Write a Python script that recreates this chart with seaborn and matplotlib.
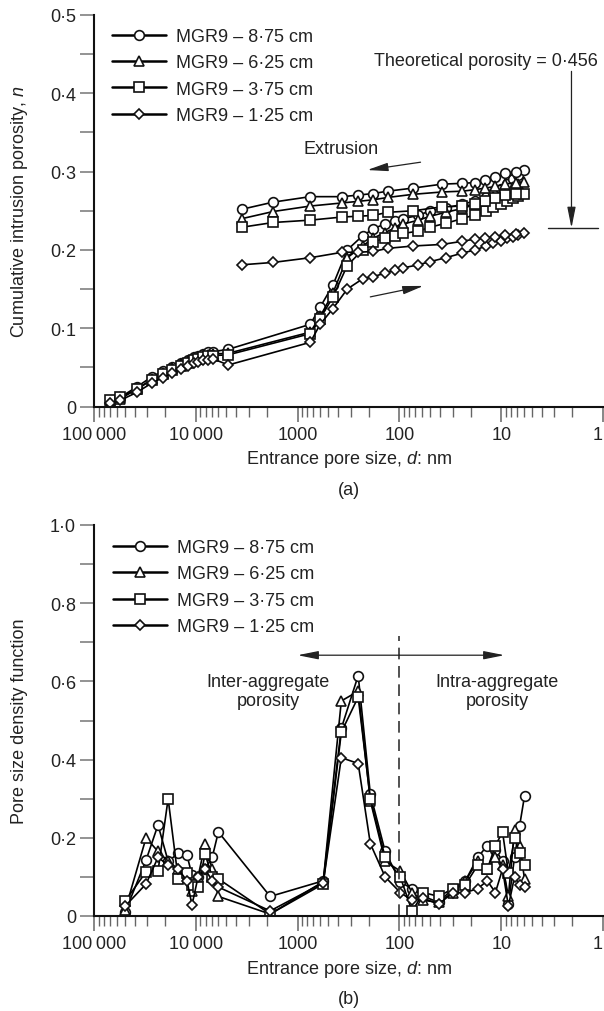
import matplotlib
matplotlib.use("Agg")
import matplotlib.pyplot as plt
import seaborn as sns
from matplotlib.ticker import FixedLocator, FuncFormatter, LogLocator, NullFormatter, MultipleLocator
from matplotlib.lines import Line2D

# ---------------- data ----------------
series_labels = ["MGR9 \u2013 8\u00b775 cm", "MGR9 \u2013 6\u00b725 cm",
                 "MGR9 \u2013 3\u00b775 cm", "MGR9 \u2013 1\u00b725 cm"]
series_markers = ["o", "^", "s", "D"]
marker_sizes = [7.0, 7.0, 6.5, 5.3]

# (a) cumulative intrusion porosity: intrusion branch (large -> small pores)
intr_d = [70000, 55000, 38000, 27000, 21000, 17000, 14000, 12000, 10500, 9500,
          8500, 7600, 6800, 4800, 750, 600, 450, 325, 230, 180,
          140, 110, 92, 65, 50, 35, 24, 18, 14, 12,
          10, 8.7, 7.6, 6.8, 6.0]
intr_n_875 = [0.005, 0.012, 0.025, 0.038, 0.045, 0.051, 0.056, 0.060, 0.063, 0.065,
              0.067, 0.069, 0.070, 0.073, 0.105, 0.127, 0.155, 0.200, 0.218, 0.227,
              0.233, 0.237, 0.240, 0.244, 0.250, 0.254, 0.258, 0.263, 0.268, 0.273,
              0.278, 0.284, 0.290, 0.296, 0.302]
intr_n_625 = [0.003, 0.010, 0.022, 0.035, 0.043, 0.049, 0.054, 0.058, 0.061, 0.063,
              0.065, 0.066, 0.067, 0.068, 0.095, 0.115, 0.145, 0.190, 0.205, 0.215,
              0.222, 0.228, 0.233, 0.238, 0.243, 0.248, 0.253, 0.258, 0.263, 0.268,
              0.272, 0.276, 0.280, 0.284, 0.287]
intr_n_375 = [0.008, 0.012, 0.022, 0.034, 0.041, 0.047, 0.052, 0.056, 0.059, 0.061,
              0.063, 0.064, 0.065, 0.066, 0.093, 0.112, 0.140, 0.180, 0.200, 0.210,
              0.215, 0.218, 0.221, 0.224, 0.229, 0.234, 0.240, 0.245, 0.250, 0.255,
              0.259, 0.263, 0.266, 0.269, 0.272]
intr_n_125 = [0.004, 0.008, 0.018, 0.030, 0.037, 0.043, 0.048, 0.052, 0.055, 0.057,
              0.059, 0.060, 0.061, 0.053, 0.082, 0.105, 0.125, 0.150, 0.163, 0.166,
              0.170, 0.174, 0.177, 0.181, 0.185, 0.190, 0.196, 0.200, 0.205, 0.209,
              0.212, 0.215, 0.217, 0.219, 0.221]
# extrusion branch (small -> large pores)
extr_d = [7.2, 9.1, 11.4, 14.3, 18, 24, 38, 73, 130, 181, 254, 364, 752, 1740, 3500]
extr_n_875 = [0.300, 0.298, 0.293, 0.289, 0.286, 0.285, 0.284, 0.279, 0.275, 0.272,
              0.270, 0.268, 0.268, 0.261, 0.252]
extr_n_625 = [0.286, 0.284, 0.281, 0.279, 0.277, 0.275, 0.274, 0.271, 0.267, 0.264,
              0.262, 0.260, 0.256, 0.249, 0.240]
extr_n_375 = [0.272, 0.270, 0.266, 0.262, 0.258, 0.256, 0.255, 0.250, 0.248, 0.244,
              0.243, 0.242, 0.238, 0.235, 0.229]
extr_n_125 = [0.220, 0.219, 0.217, 0.215, 0.214, 0.211, 0.207, 0.205, 0.202, 0.198,
              0.197, 0.197, 0.190, 0.184, 0.181]

# (b) pore size density function
psd_d = [49500, 30800, 23500, 18700, 14900, 12200, 10900, 9500, 8100, 6900,
         6000, 1860, 560, 372, 254, 193, 138, 98, 75, 58,
         41, 30, 22.5, 17, 13.7, 11.4, 9.7, 8.5, 7.4, 6.6, 5.9]
psd_875 = [0.010, 0.143, 0.233, 0.140, 0.160, 0.155, 0.105, 0.100, 0.120, 0.150,
           0.215, 0.050, 0.090, 0.480, 0.615, 0.312, 0.165, 0.087, 0.070, 0.050,
           0.035, 0.070, 0.090, 0.150, 0.180, 0.170, 0.140, 0.030, 0.150, 0.230, 0.307]
psd_625 = [0.015, 0.200, 0.165, 0.140, 0.120, 0.100, 0.065, 0.100, 0.185, 0.120,
           0.050, 0.005, 0.088, 0.550, 0.575, 0.295, 0.140, 0.115, 0.060, 0.040,
           0.035, 0.060, 0.090, 0.140, 0.120, 0.150, 0.130, 0.050, 0.220, 0.180, 0.095]
psd_375 = [0.038, 0.113, 0.115, 0.300, 0.095, 0.110, 0.080, 0.074, 0.158, 0.100,
           0.095, 0.005, 0.082, 0.470, 0.560, 0.300, 0.150, 0.100, 0.012, 0.060,
           0.050, 0.070, 0.080, 0.130, 0.120, 0.180, 0.215, 0.110, 0.200, 0.160, 0.130]
psd_125 = [0.025, 0.082, 0.150, 0.130, 0.120, 0.090, 0.028, 0.100, 0.120, 0.090,
           0.074, 0.013, 0.085, 0.405, 0.390, 0.185, 0.100, 0.060, 0.040, 0.045,
           0.030, 0.060, 0.060, 0.070, 0.090, 0.060, 0.120, 0.025, 0.100, 0.080, 0.075]

x_tick_values = [100000, 10000, 1000, 100, 10, 1]
x_tick_labels = ["100\u2009000", "10\u2009000", "1000", "100", "10", "1"]

# ---------------- style ----------------
sns.set_style("ticks")
plt.rcParams["font.family"] = ["Liberation Sans", "DejaVu Sans"]
plt.rcParams["mathtext.fontset"] = "custom"
plt.rcParams["mathtext.rm"] = "Liberation Sans"
plt.rcParams["mathtext.it"] = "Liberation Sans:italic"
TXT = "#222222"
FS = 13

W, H = 604, 1012
fig = plt.figure(figsize=(W / 100, H / 100), dpi=100)
ax1 = fig.add_axes([94 / W, 1 - 407.5 / H, 509 / W, 391.5 / H])
ax2 = fig.add_axes([94 / W, 1 - 917 / H, 509 / W, 391 / H])


def style_axes(ax, ymax, ystep, ylabel, caption):
    ax.set_xscale("log")
    ax.set_xlim(1e5, 1)
    ax.set_ylim(0, ymax)
    for s in ("top", "right"):
        ax.spines[s].set_visible(False)
    for s in ("left", "bottom"):
        ax.spines[s].set_linewidth(1.5)
        ax.spines[s].set_color("#111111")
    ax.xaxis.set_major_locator(FixedLocator(x_tick_values))
    ax.xaxis.set_major_formatter(FuncFormatter(
        lambda v, p: dict(zip(x_tick_values, x_tick_labels)).get(round(v, 6), "")))
    ax.xaxis.set_minor_locator(LogLocator(base=10, subs=range(2, 10), numticks=20))
    ax.xaxis.set_minor_formatter(NullFormatter())
    ax.yaxis.set_major_locator(MultipleLocator(ystep))
    ax.yaxis.set_minor_locator(MultipleLocator(ystep / 2))
    ax.yaxis.set_major_formatter(FuncFormatter(
        lambda v, p: "0" if abs(v) < 1e-9 else f"{v:.1f}".replace(".", "\u00b7")))
    ax.tick_params(axis="x", which="major", direction="out", length=11, width=1.1,
                   color="#666666", pad=3, labelsize=FS, labelcolor=TXT)
    ax.tick_params(axis="x", which="minor", direction="out", length=7, width=1.0,
                   color="#666666")
    ax.tick_params(axis="y", which="both", direction="out", length=10, width=1.3,
                   color="#8a8a8a", pad=3, labelsize=FS, labelcolor=TXT)
    ax.set_xlabel("Entrance pore size, $d$: nm", fontsize=FS, color=TXT, labelpad=4)
    ax.set_ylabel(ylabel, fontsize=FS, color=TXT, va="center")
    ax.yaxis.set_label_coords(-74 / 509, 0.5)
    ax.text(0.5, -0.212, caption, transform=ax.transAxes, ha="center", va="center",
            fontsize=FS, color=TXT)
    # keep the last x label ("1") inside the figure edge
    ticks = ax.xaxis.get_major_ticks()
    ticks[-1].label1.set_horizontalalignment("right")


def draw_series(ax, d, vals, marker, ms, label):
    sns.lineplot(x=d, y=vals, ax=ax, sort=False, estimator=None, color="black",
                 linewidth=1.2, marker=marker, markersize=ms, label=label)
    ln = ax.lines[-1]
    ln.set_markerfacecolor("white")
    ln.set_markeredgecolor("#111111")
    ln.set_markeredgewidth(1.2)


def add_legend(ax, anchor):
    handles = [Line2D([], [], color="black", lw=1.8, marker=m, markersize=ms,
                      markerfacecolor="white", markeredgecolor="#111111",
                      markeredgewidth=1.2)
               for m, ms in zip(series_markers, marker_sizes)]
    ax.legend(handles, series_labels, loc="upper left", bbox_to_anchor=anchor,
              frameon=False, fontsize=FS, handlelength=3.0, handletextpad=0.55,
              labelspacing=0.52, borderpad=0, borderaxespad=0, labelcolor=TXT)


# ---------------- (a) ----------------
ax1.set_xscale("log")
intr_sets = [intr_n_875, intr_n_625, intr_n_375, intr_n_125]
extr_sets = [extr_n_875, extr_n_625, extr_n_375, extr_n_125]
for lab, m, ms, ni, ne in zip(series_labels, series_markers, marker_sizes, intr_sets, extr_sets):
    draw_series(ax1, intr_d + extr_d, ni + ne, m, ms, lab)
style_axes(ax1, 0.5, 0.1, "Cumulative intrusion porosity, $n$", "(a)")
add_legend(ax1, (0.035, 0.967))

theo_text_pos = (1.13, 0.442)
theo_arrow = [(2.04, 0.428), (2.04, 0.228)]
theo_line = [(3.44, 1.13), 0.228]
extr_arrow = [(62, 0.312), (207, 0.302)]
intr_arrow = [(193, 0.140), (58, 0.154)]
arrow_kw = dict(arrowstyle="-|>,head_length=0.9,head_width=0.18", color="#222222",
                lw=0.9, shrinkA=0, shrinkB=0, mutation_scale=14)
ax1.text(*theo_text_pos, "Theoretical porosity = 0\u00b7456", ha="right", va="center",
         fontsize=FS, color=TXT)
ax1.annotate("", xy=theo_arrow[1], xytext=theo_arrow[0], arrowprops=arrow_kw)
ax1.plot(list(theo_line[0]), [theo_line[1]] * 2, color="#222222", lw=1.0)
ax1.text(375, 0.330, "Extrusion", ha="center", va="center", fontsize=FS, color=TXT)
ax1.annotate("", xy=extr_arrow[1], xytext=extr_arrow[0], arrowprops=arrow_kw)
ax1.annotate("", xy=intr_arrow[1], xytext=intr_arrow[0], arrowprops=arrow_kw)

# ---------------- (b) ----------------
ax2.set_xscale("log")
psd_sets = [psd_875, psd_625, psd_375, psd_125]
for lab, m, ms, v in zip(series_labels, series_markers, marker_sizes, psd_sets):
    draw_series(ax2, psd_d, v, m, ms, lab)
style_axes(ax2, 1.0, 0.2, "Pore size density function", "(b)")
add_legend(ax2, (0.037, 0.964))

boundary_d = 100
boundary_top = 0.716
arrow_y = 0.667
arrow_left_tip = 1000
arrow_right_tip = 9.3
ax2.plot([boundary_d, boundary_d], [0, boundary_top], color="#333333", lw=1.2,
         linestyle=(0, (7, 4)))
ax2.annotate("", xy=(arrow_left_tip, arrow_y), xytext=(boundary_d, arrow_y), arrowprops=arrow_kw)
ax2.annotate("", xy=(arrow_right_tip, arrow_y), xytext=(boundary_d, arrow_y), arrowprops=arrow_kw)
ax2.text(1945, 0.575, "Inter-aggregate\nporosity", ha="center", va="center",
         multialignment="center", fontsize=FS, color=TXT, linespacing=1.15)
ax2.text(10.9, 0.575, "Intra-aggregate\nporosity", ha="center", va="center",
         multialignment="center", fontsize=FS, color=TXT, linespacing=1.15)

fig.savefig("out.png", dpi=100)
